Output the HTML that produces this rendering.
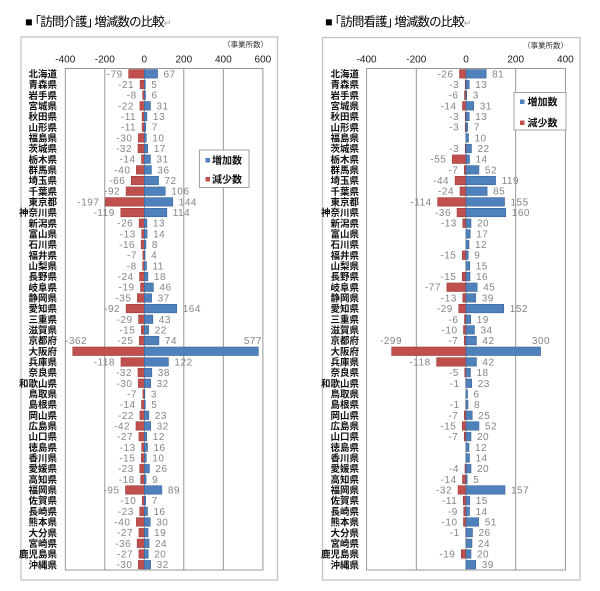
<!DOCTYPE html>
<html><head><meta charset="utf-8">
<style>
html,body{margin:0;padding:0;background:#fff;}
svg{display:block;}
.t{font-family:"Liberation Sans","Noto Sans CJK JP",sans-serif;font-size:12.5px;fill:#000;letter-spacing:-0.9px;}
.pf{font-family:"Liberation Sans","Noto Sans CJK JP",sans-serif;font-size:9.5px;font-weight:bold;fill:#111;text-anchor:end;}
.v{font-family:"Liberation Sans",sans-serif;font-size:10px;fill:#858585;letter-spacing:0.5px;}
.n{text-anchor:end;}
.tk{font-family:"Liberation Sans",sans-serif;font-size:10px;fill:#222;text-anchor:middle;}
.u{font-family:"Liberation Sans","Noto Sans CJK JP",sans-serif;font-size:7.5px;fill:#333;text-anchor:end;}
.lg{font-family:"Liberation Sans","Noto Sans CJK JP",sans-serif;font-size:10px;font-weight:bold;fill:#111;}
.r{fill:#c0504d;stroke:#9c3b38;stroke-width:0.6;}
.b{fill:#4f81bd;stroke:#3b6496;stroke-width:0.6;}
.g{stroke:#8c8c8c;stroke-width:0.9;}
</style></head>
<body>
<svg width="600" height="591" viewBox="0 0 600 591" xmlns="http://www.w3.org/2000/svg">
<rect x="0" y="0" width="600" height="591" fill="#fff"/>

<!-- Titles -->
<text class="t" x="25" y="26">■<tspan dx="-3">「訪問介護」</tspan><tspan dx="-4">増減数の比較</tspan><tspan fill="#999" font-size="9">↵</tspan></text>
<text class="t" x="325" y="26">■<tspan dx="-3">「訪問看護」</tspan><tspan dx="-4">増減数の比較</tspan><tspan fill="#999" font-size="9">↵</tspan></text>

<!-- ============ LEFT CHART ============ -->
<rect x="21" y="37" width="256.5" height="543" fill="#fff" stroke="#c4c4c4" stroke-width="1.3"/>
<text class="u" x="268" y="47">（事業所数）</text>
<text class="tk" x="65.3" y="62.5">-400</text>
<text class="tk" x="104.8" y="62.5">-200</text>
<text class="tk" x="144.3" y="62.5">0</text>
<text class="tk" x="183.8" y="62.5">200</text>
<text class="tk" x="223.3" y="62.5">400</text>
<text class="tk" x="262.9" y="62.5">600</text>
<rect x="65.3" y="68.5" width="197.6" height="501.5" fill="#fff" class="g"/>
<line class="g" x1="104.8" y1="68.5" x2="104.8" y2="570"/>
<line class="g" x1="144.3" y1="68.5" x2="144.3" y2="570"/>
<line class="g" x1="183.8" y1="68.5" x2="183.8" y2="570"/>
<line class="g" x1="223.3" y1="68.5" x2="223.3" y2="570"/>

<g transform="translate(144.3,73.84)"><text class="pf" x="-87.3" y="3.6">北海道</text><rect class="r" x="-15.61" y="-4.25" width="15.61" height="8.5"/><rect class="b" x="0" y="-4.25" width="13.24" height="8.5"/><text class="v n" x="-21.6" y="3.5">-79</text><text class="v" x="19.2" y="3.5">67</text></g>
<g transform="translate(144.3,84.51)"><text class="pf" x="-87.3" y="3.6">青森県</text><rect class="r" x="-4.15" y="-4.25" width="4.15" height="8.5"/><rect class="b" x="0" y="-4.25" width="0.99" height="8.5"/><text class="v n" x="-10.2" y="3.5">-21</text><text class="v" x="7" y="3.5">5</text></g>
<g transform="translate(144.3,95.18)"><text class="pf" x="-87.3" y="3.6">岩手県</text><rect class="r" x="-1.58" y="-4.25" width="1.58" height="8.5"/><rect class="b" x="0" y="-4.25" width="1.19" height="8.5"/><text class="v n" x="-7.6" y="3.5">-8</text><text class="v" x="7.2" y="3.5">6</text></g>
<g transform="translate(144.3,105.85)"><text class="pf" x="-87.3" y="3.6">宮城県</text><rect class="r" x="-4.35" y="-4.25" width="4.35" height="8.5"/><rect class="b" x="0" y="-4.25" width="6.13" height="8.5"/><text class="v n" x="-10.4" y="3.5">-22</text><text class="v" x="12.1" y="3.5">31</text></g>
<g transform="translate(144.3,116.52)"><text class="pf" x="-87.3" y="3.6">秋田県</text><rect class="r" x="-2.17" y="-4.25" width="2.17" height="8.5"/><rect class="b" x="0" y="-4.25" width="2.57" height="8.5"/><text class="v n" x="-8.2" y="3.5">-11</text><text class="v" x="8.6" y="3.5">13</text></g>
<g transform="translate(144.3,127.19)"><text class="pf" x="-87.3" y="3.6">山形県</text><rect class="r" x="-2.17" y="-4.25" width="2.17" height="8.5"/><rect class="b" x="0" y="-4.25" width="1.38" height="8.5"/><text class="v n" x="-8.2" y="3.5">-11</text><text class="v" x="7.4" y="3.5">7</text></g>
<g transform="translate(144.3,137.86)"><text class="pf" x="-87.3" y="3.6">福島県</text><rect class="r" x="-5.93" y="-4.25" width="5.93" height="8.5"/><rect class="b" x="0" y="-4.25" width="1.98" height="8.5"/><text class="v n" x="-11.9" y="3.5">-30</text><text class="v" x="8" y="3.5">10</text></g>
<g transform="translate(144.3,148.53)"><text class="pf" x="-87.3" y="3.6">茨城県</text><rect class="r" x="-6.32" y="-4.25" width="6.32" height="8.5"/><rect class="b" x="0" y="-4.25" width="3.36" height="8.5"/><text class="v n" x="-12.3" y="3.5">-32</text><text class="v" x="9.4" y="3.5">17</text></g>
<g transform="translate(144.3,159.2)"><text class="pf" x="-87.3" y="3.6">栃木県</text><rect class="r" x="-2.77" y="-4.25" width="2.77" height="8.5"/><rect class="b" x="0" y="-4.25" width="6.13" height="8.5"/><text class="v n" x="-8.8" y="3.5">-14</text><text class="v" x="12.1" y="3.5">31</text></g>
<g transform="translate(144.3,169.87)"><text class="pf" x="-87.3" y="3.6">群馬県</text><rect class="r" x="-7.9" y="-4.25" width="7.9" height="8.5"/><rect class="b" x="0" y="-4.25" width="7.11" height="8.5"/><text class="v n" x="-13.9" y="3.5">-40</text><text class="v" x="13.1" y="3.5">36</text></g>
<g transform="translate(144.3,180.54)"><text class="pf" x="-87.3" y="3.6">埼玉県</text><rect class="r" x="-13.04" y="-4.25" width="13.04" height="8.5"/><rect class="b" x="0" y="-4.25" width="14.23" height="8.5"/><text class="v n" x="-19" y="3.5">-66</text><text class="v" x="20.2" y="3.5">72</text></g>
<g transform="translate(144.3,191.21)"><text class="pf" x="-87.3" y="3.6">千葉県</text><rect class="r" x="-18.18" y="-4.25" width="18.18" height="8.5"/><rect class="b" x="0" y="-4.25" width="20.95" height="8.5"/><text class="v n" x="-24.2" y="3.5">-92</text><text class="v" x="27" y="3.5">106</text></g>
<g transform="translate(144.3,201.88)"><text class="pf" x="-87.3" y="3.6">東京都</text><rect class="r" x="-38.93" y="-4.25" width="38.93" height="8.5"/><rect class="b" x="0" y="-4.25" width="28.45" height="8.5"/><text class="v n" x="-44.9" y="3.5">-197</text><text class="v" x="34.5" y="3.5">144</text></g>
<g transform="translate(144.3,212.55)"><text class="pf" x="-87.3" y="3.6">神奈川県</text><rect class="r" x="-23.51" y="-4.25" width="23.51" height="8.5"/><rect class="b" x="0" y="-4.25" width="22.53" height="8.5"/><text class="v n" x="-29.5" y="3.5">-119</text><text class="v" x="28.5" y="3.5">114</text></g>
<g transform="translate(144.3,223.22)"><text class="pf" x="-87.3" y="3.6">新潟県</text><rect class="r" x="-5.14" y="-4.25" width="5.14" height="8.5"/><rect class="b" x="0" y="-4.25" width="2.57" height="8.5"/><text class="v n" x="-11.1" y="3.5">-26</text><text class="v" x="8.6" y="3.5">13</text></g>
<g transform="translate(144.3,233.89)"><text class="pf" x="-87.3" y="3.6">富山県</text><rect class="r" x="-2.57" y="-4.25" width="2.57" height="8.5"/><rect class="b" x="0" y="-4.25" width="2.77" height="8.5"/><text class="v n" x="-8.6" y="3.5">-13</text><text class="v" x="8.8" y="3.5">14</text></g>
<g transform="translate(144.3,244.56)"><text class="pf" x="-87.3" y="3.6">石川県</text><rect class="r" x="-3.16" y="-4.25" width="3.16" height="8.5"/><rect class="b" x="0" y="-4.25" width="1.58" height="8.5"/><text class="v n" x="-9.2" y="3.5">-16</text><text class="v" x="7.6" y="3.5">8</text></g>
<g transform="translate(144.3,255.23)"><text class="pf" x="-87.3" y="3.6">福井県</text><rect class="r" x="-1.38" y="-4.25" width="1.38" height="8.5"/><rect class="b" x="0" y="-4.25" width="0.79" height="8.5"/><text class="v n" x="-7.4" y="3.5">-7</text><text class="v" x="6.8" y="3.5">4</text></g>
<g transform="translate(144.3,265.9)"><text class="pf" x="-87.3" y="3.6">山梨県</text><rect class="r" x="-1.58" y="-4.25" width="1.58" height="8.5"/><rect class="b" x="0" y="-4.25" width="2.17" height="8.5"/><text class="v n" x="-7.6" y="3.5">-8</text><text class="v" x="8.2" y="3.5">11</text></g>
<g transform="translate(144.3,276.57)"><text class="pf" x="-87.3" y="3.6">長野県</text><rect class="r" x="-4.74" y="-4.25" width="4.74" height="8.5"/><rect class="b" x="0" y="-4.25" width="3.56" height="8.5"/><text class="v n" x="-10.7" y="3.5">-24</text><text class="v" x="9.6" y="3.5">18</text></g>
<g transform="translate(144.3,287.24)"><text class="pf" x="-87.3" y="3.6">岐阜県</text><rect class="r" x="-3.75" y="-4.25" width="3.75" height="8.5"/><rect class="b" x="0" y="-4.25" width="9.09" height="8.5"/><text class="v n" x="-9.8" y="3.5">-19</text><text class="v" x="15.1" y="3.5">46</text></g>
<g transform="translate(144.3,297.91)"><text class="pf" x="-87.3" y="3.6">静岡県</text><rect class="r" x="-6.92" y="-4.25" width="6.92" height="8.5"/><rect class="b" x="0" y="-4.25" width="7.31" height="8.5"/><text class="v n" x="-12.9" y="3.5">-35</text><text class="v" x="13.3" y="3.5">37</text></g>
<g transform="translate(144.3,308.58)"><text class="pf" x="-87.3" y="3.6">愛知県</text><rect class="r" x="-18.18" y="-4.25" width="18.18" height="8.5"/><rect class="b" x="0" y="-4.25" width="32.41" height="8.5"/><text class="v n" x="-24.2" y="3.5">-92</text><text class="v" x="38.4" y="3.5">164</text></g>
<g transform="translate(144.3,319.25)"><text class="pf" x="-87.3" y="3.6">三重県</text><rect class="r" x="-5.73" y="-4.25" width="5.73" height="8.5"/><rect class="b" x="0" y="-4.25" width="8.5" height="8.5"/><text class="v n" x="-11.7" y="3.5">-29</text><text class="v" x="14.5" y="3.5">43</text></g>
<g transform="translate(144.3,329.92)"><text class="pf" x="-87.3" y="3.6">滋賀県</text><rect class="r" x="-2.96" y="-4.25" width="2.96" height="8.5"/><rect class="b" x="0" y="-4.25" width="4.35" height="8.5"/><text class="v n" x="-9" y="3.5">-15</text><text class="v" x="10.4" y="3.5">22</text></g>
<g transform="translate(144.3,340.59)"><text class="pf" x="-87.3" y="3.6">京都府</text><rect class="r" x="-4.94" y="-4.25" width="4.94" height="8.5"/><rect class="b" x="0" y="-4.25" width="14.62" height="8.5"/><text class="v n" x="-10.9" y="3.5">-25</text><text class="v" x="20.6" y="3.5">74</text></g>
<g transform="translate(144.3,351.26)"><text class="pf" x="-87.3" y="3.6">大阪府</text><rect class="r" x="-71.53" y="-4.25" width="71.53" height="8.5"/><rect class="b" x="0" y="-4.25" width="114.02" height="8.5"/></g>
<text class="v" x="65" y="344">-362</text>
<text class="v n" x="262" y="344">577</text>
<g transform="translate(144.3,361.93)"><text class="pf" x="-87.3" y="3.6">兵庫県</text><rect class="r" x="-23.32" y="-4.25" width="23.32" height="8.5"/><rect class="b" x="0" y="-4.25" width="24.11" height="8.5"/><text class="v n" x="-29.3" y="3.5">-118</text><text class="v" x="30.1" y="3.5">122</text></g>
<g transform="translate(144.3,372.6)"><text class="pf" x="-87.3" y="3.6">奈良県</text><rect class="r" x="-6.32" y="-4.25" width="6.32" height="8.5"/><rect class="b" x="0" y="-4.25" width="7.51" height="8.5"/><text class="v n" x="-12.3" y="3.5">-32</text><text class="v" x="13.5" y="3.5">38</text></g>
<g transform="translate(144.3,383.27)"><text class="pf" x="-87.3" y="3.6">和歌山県</text><rect class="r" x="-5.93" y="-4.25" width="5.93" height="8.5"/><rect class="b" x="0" y="-4.25" width="6.32" height="8.5"/><text class="v n" x="-11.9" y="3.5">-30</text><text class="v" x="12.3" y="3.5">32</text></g>
<g transform="translate(144.3,393.94)"><text class="pf" x="-87.3" y="3.6">鳥取県</text><rect class="r" x="-1.38" y="-4.25" width="1.38" height="8.5"/><rect class="b" x="0" y="-4.25" width="0.59" height="8.5"/><text class="v n" x="-7.4" y="3.5">-7</text><text class="v" x="6.6" y="3.5">3</text></g>
<g transform="translate(144.3,404.61)"><text class="pf" x="-87.3" y="3.6">島根県</text><rect class="r" x="-2.77" y="-4.25" width="2.77" height="8.5"/><rect class="b" x="0" y="-4.25" width="0.99" height="8.5"/><text class="v n" x="-8.8" y="3.5">-14</text><text class="v" x="7" y="3.5">5</text></g>
<g transform="translate(144.3,415.28)"><text class="pf" x="-87.3" y="3.6">岡山県</text><rect class="r" x="-4.35" y="-4.25" width="4.35" height="8.5"/><rect class="b" x="0" y="-4.25" width="4.54" height="8.5"/><text class="v n" x="-10.4" y="3.5">-22</text><text class="v" x="10.5" y="3.5">23</text></g>
<g transform="translate(144.3,425.95)"><text class="pf" x="-87.3" y="3.6">広島県</text><rect class="r" x="-8.3" y="-4.25" width="8.3" height="8.5"/><rect class="b" x="0" y="-4.25" width="6.32" height="8.5"/><text class="v n" x="-14.3" y="3.5">-42</text><text class="v" x="12.3" y="3.5">32</text></g>
<g transform="translate(144.3,436.62)"><text class="pf" x="-87.3" y="3.6">山口県</text><rect class="r" x="-5.34" y="-4.25" width="5.34" height="8.5"/><rect class="b" x="0" y="-4.25" width="2.37" height="8.5"/><text class="v n" x="-11.3" y="3.5">-27</text><text class="v" x="8.4" y="3.5">12</text></g>
<g transform="translate(144.3,447.29)"><text class="pf" x="-87.3" y="3.6">徳島県</text><rect class="r" x="-2.57" y="-4.25" width="2.57" height="8.5"/><rect class="b" x="0" y="-4.25" width="3.16" height="8.5"/><text class="v n" x="-8.6" y="3.5">-13</text><text class="v" x="9.2" y="3.5">16</text></g>
<g transform="translate(144.3,457.96)"><text class="pf" x="-87.3" y="3.6">香川県</text><rect class="r" x="-2.96" y="-4.25" width="2.96" height="8.5"/><rect class="b" x="0" y="-4.25" width="1.98" height="8.5"/><text class="v n" x="-9" y="3.5">-15</text><text class="v" x="8" y="3.5">10</text></g>
<g transform="translate(144.3,468.63)"><text class="pf" x="-87.3" y="3.6">愛媛県</text><rect class="r" x="-4.54" y="-4.25" width="4.54" height="8.5"/><rect class="b" x="0" y="-4.25" width="5.14" height="8.5"/><text class="v n" x="-10.5" y="3.5">-23</text><text class="v" x="11.1" y="3.5">26</text></g>
<g transform="translate(144.3,479.3)"><text class="pf" x="-87.3" y="3.6">高知県</text><rect class="r" x="-3.56" y="-4.25" width="3.56" height="8.5"/><rect class="b" x="0" y="-4.25" width="1.78" height="8.5"/><text class="v n" x="-9.6" y="3.5">-18</text><text class="v" x="7.8" y="3.5">9</text></g>
<g transform="translate(144.3,489.97)"><text class="pf" x="-87.3" y="3.6">福岡県</text><rect class="r" x="-18.77" y="-4.25" width="18.77" height="8.5"/><rect class="b" x="0" y="-4.25" width="17.59" height="8.5"/><text class="v n" x="-24.8" y="3.5">-95</text><text class="v" x="23.6" y="3.5">89</text></g>
<g transform="translate(144.3,500.64)"><text class="pf" x="-87.3" y="3.6">佐賀県</text><rect class="r" x="-1.98" y="-4.25" width="1.98" height="8.5"/><rect class="b" x="0" y="-4.25" width="1.38" height="8.5"/><text class="v n" x="-8" y="3.5">-10</text><text class="v" x="7.4" y="3.5">7</text></g>
<g transform="translate(144.3,511.31)"><text class="pf" x="-87.3" y="3.6">長崎県</text><rect class="r" x="-4.54" y="-4.25" width="4.54" height="8.5"/><rect class="b" x="0" y="-4.25" width="3.16" height="8.5"/><text class="v n" x="-10.5" y="3.5">-23</text><text class="v" x="9.2" y="3.5">16</text></g>
<g transform="translate(144.3,521.98)"><text class="pf" x="-87.3" y="3.6">熊本県</text><rect class="r" x="-7.9" y="-4.25" width="7.9" height="8.5"/><rect class="b" x="0" y="-4.25" width="5.93" height="8.5"/><text class="v n" x="-13.9" y="3.5">-40</text><text class="v" x="11.9" y="3.5">30</text></g>
<g transform="translate(144.3,532.65)"><text class="pf" x="-87.3" y="3.6">大分県</text><rect class="r" x="-5.34" y="-4.25" width="5.34" height="8.5"/><rect class="b" x="0" y="-4.25" width="3.75" height="8.5"/><text class="v n" x="-11.3" y="3.5">-27</text><text class="v" x="9.8" y="3.5">19</text></g>
<g transform="translate(144.3,543.32)"><text class="pf" x="-87.3" y="3.6">宮崎県</text><rect class="r" x="-7.11" y="-4.25" width="7.11" height="8.5"/><rect class="b" x="0" y="-4.25" width="4.74" height="8.5"/><text class="v n" x="-13.1" y="3.5">-36</text><text class="v" x="10.7" y="3.5">24</text></g>
<g transform="translate(144.3,553.99)"><text class="pf" x="-87.3" y="3.6">鹿児島県</text><rect class="r" x="-5.34" y="-4.25" width="5.34" height="8.5"/><rect class="b" x="0" y="-4.25" width="3.95" height="8.5"/><text class="v n" x="-11.3" y="3.5">-27</text><text class="v" x="9.9" y="3.5">20</text></g>
<g transform="translate(144.3,564.66)"><text class="pf" x="-87.3" y="3.6">沖縄県</text><rect class="r" x="-5.93" y="-4.25" width="5.93" height="8.5"/><rect class="b" x="0" y="-4.25" width="6.32" height="8.5"/><text class="v n" x="-11.9" y="3.5">-30</text><text class="v" x="12.3" y="3.5">32</text></g>

<!-- left legend -->
<rect x="199.5" y="150" width="49.5" height="37.5" fill="#fff" stroke="#9a9a9a" stroke-width="0.9"/>
<rect x="205.5" y="158" width="4.5" height="4.5" fill="#4f81bd"/>
<text class="lg" x="212" y="164">増加数</text>
<rect x="205.5" y="177" width="4.5" height="4.5" fill="#c0504d"/>
<text class="lg" x="212" y="183">減少数</text>

<!-- ============ RIGHT CHART ============ -->
<rect x="322.5" y="37.5" width="257.5" height="542.5" fill="#fff" stroke="#c4c4c4" stroke-width="1.3"/>
<text class="u" x="568" y="48">（事業所数）</text>
<text class="tk" x="366.6" y="62.5">-400</text>
<text class="tk" x="416.3" y="62.5">-200</text>
<text class="tk" x="466" y="62.5">0</text>
<text class="tk" x="515.7" y="62.5">200</text>
<text class="tk" x="565.4" y="62.5">400</text>
<rect x="366.6" y="68.5" width="198.8" height="501.5" fill="#fff" class="g"/>
<line class="g" x1="416.3" y1="68.5" x2="416.3" y2="570"/>
<line class="g" x1="466" y1="68.5" x2="466" y2="570"/>
<line class="g" x1="515.7" y1="68.5" x2="515.7" y2="570"/>

<g transform="translate(466,73.84)"><text class="pf" x="-107" y="3.6">北海道</text><rect class="r" x="-6.46" y="-4.25" width="6.46" height="8.5"/><rect class="b" x="0" y="-4.25" width="20.13" height="8.5"/><text class="v n" x="-12.5" y="3.5">-26</text><text class="v" x="26.1" y="3.5">81</text></g>
<g transform="translate(466,84.51)"><text class="pf" x="-107" y="3.6">青森県</text><rect class="r" x="-0.75" y="-4.25" width="0.75" height="8.5"/><rect class="b" x="0" y="-4.25" width="3.23" height="8.5"/><text class="v n" x="-6.8" y="3.5">-3</text><text class="v" x="9.2" y="3.5">13</text></g>
<g transform="translate(466,95.18)"><text class="pf" x="-107" y="3.6">岩手県</text><rect class="r" x="-1.49" y="-4.25" width="1.49" height="8.5"/><rect class="b" x="0" y="-4.25" width="0.75" height="8.5"/><text class="v n" x="-7.5" y="3.5">-6</text><text class="v" x="6.8" y="3.5">3</text></g>
<g transform="translate(466,105.85)"><text class="pf" x="-107" y="3.6">宮城県</text><rect class="r" x="-3.48" y="-4.25" width="3.48" height="8.5"/><rect class="b" x="0" y="-4.25" width="7.7" height="8.5"/><text class="v n" x="-9.5" y="3.5">-14</text><text class="v" x="13.7" y="3.5">31</text></g>
<g transform="translate(466,116.52)"><text class="pf" x="-107" y="3.6">秋田県</text><rect class="r" x="-0.75" y="-4.25" width="0.75" height="8.5"/><rect class="b" x="0" y="-4.25" width="3.23" height="8.5"/><text class="v n" x="-6.8" y="3.5">-3</text><text class="v" x="9.2" y="3.5">13</text></g>
<g transform="translate(466,127.19)"><text class="pf" x="-107" y="3.6">山形県</text><rect class="r" x="-0.75" y="-4.25" width="0.75" height="8.5"/><rect class="b" x="0" y="-4.25" width="1.74" height="8.5"/><text class="v n" x="-6.8" y="3.5">-3</text><text class="v" x="7.7" y="3.5">7</text></g>
<g transform="translate(466,137.86)"><text class="pf" x="-107" y="3.6">福島県</text><rect class="b" x="0" y="-4.25" width="2.49" height="8.5"/><text class="v" x="8.5" y="3.5">10</text></g>
<g transform="translate(466,148.53)"><text class="pf" x="-107" y="3.6">茨城県</text><rect class="r" x="-0.75" y="-4.25" width="0.75" height="8.5"/><rect class="b" x="0" y="-4.25" width="5.47" height="8.5"/><text class="v n" x="-6.8" y="3.5">-3</text><text class="v" x="11.5" y="3.5">22</text></g>
<g transform="translate(466,159.2)"><text class="pf" x="-107" y="3.6">栃木県</text><rect class="r" x="-13.67" y="-4.25" width="13.67" height="8.5"/><rect class="b" x="0" y="-4.25" width="3.48" height="8.5"/><text class="v n" x="-19.7" y="3.5">-55</text><text class="v" x="9.5" y="3.5">14</text></g>
<g transform="translate(466,169.87)"><text class="pf" x="-107" y="3.6">群馬県</text><rect class="r" x="-1.74" y="-4.25" width="1.74" height="8.5"/><rect class="b" x="0" y="-4.25" width="12.92" height="8.5"/><text class="v n" x="-7.7" y="3.5">-7</text><text class="v" x="18.9" y="3.5">52</text></g>
<g transform="translate(466,180.54)"><text class="pf" x="-107" y="3.6">埼玉県</text><rect class="r" x="-10.93" y="-4.25" width="10.93" height="8.5"/><rect class="b" x="0" y="-4.25" width="29.57" height="8.5"/><text class="v n" x="-16.9" y="3.5">-44</text><text class="v" x="35.6" y="3.5">119</text></g>
<g transform="translate(466,191.21)"><text class="pf" x="-107" y="3.6">千葉県</text><rect class="r" x="-5.96" y="-4.25" width="5.96" height="8.5"/><rect class="b" x="0" y="-4.25" width="21.12" height="8.5"/><text class="v n" x="-12" y="3.5">-24</text><text class="v" x="27.1" y="3.5">85</text></g>
<g transform="translate(466,201.88)"><text class="pf" x="-107" y="3.6">東京都</text><rect class="r" x="-28.33" y="-4.25" width="28.33" height="8.5"/><rect class="b" x="0" y="-4.25" width="38.52" height="8.5"/><text class="v n" x="-34.3" y="3.5">-114</text><text class="v" x="44.5" y="3.5">155</text></g>
<g transform="translate(466,212.55)"><text class="pf" x="-107" y="3.6">神奈川県</text><rect class="r" x="-8.95" y="-4.25" width="8.95" height="8.5"/><rect class="b" x="0" y="-4.25" width="39.76" height="8.5"/><text class="v n" x="-15" y="3.5">-36</text><text class="v" x="45.8" y="3.5">160</text></g>
<g transform="translate(466,223.22)"><text class="pf" x="-107" y="3.6">新潟県</text><rect class="r" x="-3.23" y="-4.25" width="3.23" height="8.5"/><rect class="b" x="0" y="-4.25" width="4.97" height="8.5"/><text class="v n" x="-9.2" y="3.5">-13</text><text class="v" x="11" y="3.5">20</text></g>
<g transform="translate(466,233.89)"><text class="pf" x="-107" y="3.6">富山県</text><rect class="b" x="0" y="-4.25" width="4.22" height="8.5"/><text class="v" x="10.2" y="3.5">17</text></g>
<g transform="translate(466,244.56)"><text class="pf" x="-107" y="3.6">石川県</text><rect class="b" x="0" y="-4.25" width="2.98" height="8.5"/><text class="v" x="9" y="3.5">12</text></g>
<g transform="translate(466,255.23)"><text class="pf" x="-107" y="3.6">福井県</text><rect class="r" x="-3.73" y="-4.25" width="3.73" height="8.5"/><rect class="b" x="0" y="-4.25" width="2.24" height="8.5"/><text class="v n" x="-9.7" y="3.5">-15</text><text class="v" x="8.2" y="3.5">9</text></g>
<g transform="translate(466,265.9)"><text class="pf" x="-107" y="3.6">山梨県</text><rect class="b" x="0" y="-4.25" width="3.73" height="8.5"/><text class="v" x="9.7" y="3.5">15</text></g>
<g transform="translate(466,276.57)"><text class="pf" x="-107" y="3.6">長野県</text><rect class="r" x="-3.73" y="-4.25" width="3.73" height="8.5"/><rect class="b" x="0" y="-4.25" width="3.98" height="8.5"/><text class="v n" x="-9.7" y="3.5">-15</text><text class="v" x="10" y="3.5">16</text></g>
<g transform="translate(466,287.24)"><text class="pf" x="-107" y="3.6">岐阜県</text><rect class="r" x="-19.13" y="-4.25" width="19.13" height="8.5"/><rect class="b" x="0" y="-4.25" width="11.18" height="8.5"/><text class="v n" x="-25.1" y="3.5">-77</text><text class="v" x="17.2" y="3.5">45</text></g>
<g transform="translate(466,297.91)"><text class="pf" x="-107" y="3.6">静岡県</text><rect class="r" x="-3.23" y="-4.25" width="3.23" height="8.5"/><rect class="b" x="0" y="-4.25" width="9.69" height="8.5"/><text class="v n" x="-9.2" y="3.5">-13</text><text class="v" x="15.7" y="3.5">39</text></g>
<g transform="translate(466,308.58)"><text class="pf" x="-107" y="3.6">愛知県</text><rect class="r" x="-7.21" y="-4.25" width="7.21" height="8.5"/><rect class="b" x="0" y="-4.25" width="37.77" height="8.5"/><text class="v n" x="-13.2" y="3.5">-29</text><text class="v" x="43.8" y="3.5">152</text></g>
<g transform="translate(466,319.25)"><text class="pf" x="-107" y="3.6">三重県</text><rect class="r" x="-1.49" y="-4.25" width="1.49" height="8.5"/><rect class="b" x="0" y="-4.25" width="4.72" height="8.5"/><text class="v n" x="-7.5" y="3.5">-6</text><text class="v" x="10.7" y="3.5">19</text></g>
<g transform="translate(466,329.92)"><text class="pf" x="-107" y="3.6">滋賀県</text><rect class="r" x="-2.49" y="-4.25" width="2.49" height="8.5"/><rect class="b" x="0" y="-4.25" width="8.45" height="8.5"/><text class="v n" x="-8.5" y="3.5">-10</text><text class="v" x="14.5" y="3.5">34</text></g>
<g transform="translate(466,340.59)"><text class="pf" x="-107" y="3.6">京都府</text><rect class="r" x="-1.74" y="-4.25" width="1.74" height="8.5"/><rect class="b" x="0" y="-4.25" width="10.44" height="8.5"/><text class="v n" x="-7.7" y="3.5">-7</text><text class="v" x="16.4" y="3.5">42</text></g>
<g transform="translate(466,351.26)"><text class="pf" x="-107" y="3.6">大阪府</text><rect class="r" x="-74.3" y="-4.25" width="74.3" height="8.5"/><rect class="b" x="0" y="-4.25" width="74.55" height="8.5"/></g>
<text class="v" x="391" y="344" text-anchor="middle">-299</text>
<text class="v" x="541" y="344" text-anchor="middle">300</text>
<g transform="translate(466,361.93)"><text class="pf" x="-107" y="3.6">兵庫県</text><rect class="r" x="-29.32" y="-4.25" width="29.32" height="8.5"/><rect class="b" x="0" y="-4.25" width="10.44" height="8.5"/><text class="v n" x="-35.3" y="3.5">-118</text><text class="v" x="16.4" y="3.5">42</text></g>
<g transform="translate(466,372.6)"><text class="pf" x="-107" y="3.6">奈良県</text><rect class="r" x="-1.24" y="-4.25" width="1.24" height="8.5"/><rect class="b" x="0" y="-4.25" width="4.47" height="8.5"/><text class="v n" x="-7.2" y="3.5">-5</text><text class="v" x="10.5" y="3.5">18</text></g>
<g transform="translate(466,383.27)"><text class="pf" x="-107" y="3.6">和歌山県</text><rect class="r" x="-0.25" y="-4.25" width="0.25" height="8.5"/><rect class="b" x="0" y="-4.25" width="5.72" height="8.5"/><text class="v n" x="-6.3" y="3.5">-1</text><text class="v" x="11.7" y="3.5">23</text></g>
<g transform="translate(466,393.94)"><text class="pf" x="-107" y="3.6">鳥取県</text><rect class="b" x="0" y="-4.25" width="1.49" height="8.5"/><text class="v" x="7.5" y="3.5">6</text></g>
<g transform="translate(466,404.61)"><text class="pf" x="-107" y="3.6">島根県</text><rect class="r" x="-0.25" y="-4.25" width="0.25" height="8.5"/><rect class="b" x="0" y="-4.25" width="1.99" height="8.5"/><text class="v n" x="-6.3" y="3.5">-1</text><text class="v" x="8" y="3.5">8</text></g>
<g transform="translate(466,415.28)"><text class="pf" x="-107" y="3.6">岡山県</text><rect class="r" x="-1.74" y="-4.25" width="1.74" height="8.5"/><rect class="b" x="0" y="-4.25" width="6.21" height="8.5"/><text class="v n" x="-7.7" y="3.5">-7</text><text class="v" x="12.2" y="3.5">25</text></g>
<g transform="translate(466,425.95)"><text class="pf" x="-107" y="3.6">広島県</text><rect class="r" x="-3.73" y="-4.25" width="3.73" height="8.5"/><rect class="b" x="0" y="-4.25" width="12.92" height="8.5"/><text class="v n" x="-9.7" y="3.5">-15</text><text class="v" x="18.9" y="3.5">52</text></g>
<g transform="translate(466,436.62)"><text class="pf" x="-107" y="3.6">山口県</text><rect class="r" x="-1.74" y="-4.25" width="1.74" height="8.5"/><rect class="b" x="0" y="-4.25" width="4.97" height="8.5"/><text class="v n" x="-7.7" y="3.5">-7</text><text class="v" x="11" y="3.5">20</text></g>
<g transform="translate(466,447.29)"><text class="pf" x="-107" y="3.6">徳島県</text><rect class="b" x="0" y="-4.25" width="2.98" height="8.5"/><text class="v" x="9" y="3.5">12</text></g>
<g transform="translate(466,457.96)"><text class="pf" x="-107" y="3.6">香川県</text><rect class="b" x="0" y="-4.25" width="3.48" height="8.5"/><text class="v" x="9.5" y="3.5">14</text></g>
<g transform="translate(466,468.63)"><text class="pf" x="-107" y="3.6">愛媛県</text><rect class="r" x="-0.99" y="-4.25" width="0.99" height="8.5"/><rect class="b" x="0" y="-4.25" width="4.97" height="8.5"/><text class="v n" x="-7" y="3.5">-4</text><text class="v" x="11" y="3.5">20</text></g>
<g transform="translate(466,479.3)"><text class="pf" x="-107" y="3.6">高知県</text><rect class="r" x="-3.48" y="-4.25" width="3.48" height="8.5"/><rect class="b" x="0" y="-4.25" width="1.24" height="8.5"/><text class="v n" x="-9.5" y="3.5">-14</text><text class="v" x="7.2" y="3.5">5</text></g>
<g transform="translate(466,489.97)"><text class="pf" x="-107" y="3.6">福岡県</text><rect class="r" x="-7.95" y="-4.25" width="7.95" height="8.5"/><rect class="b" x="0" y="-4.25" width="39.01" height="8.5"/><text class="v n" x="-14" y="3.5">-32</text><text class="v" x="45" y="3.5">157</text></g>
<g transform="translate(466,500.64)"><text class="pf" x="-107" y="3.6">佐賀県</text><rect class="r" x="-2.73" y="-4.25" width="2.73" height="8.5"/><rect class="b" x="0" y="-4.25" width="3.73" height="8.5"/><text class="v n" x="-8.7" y="3.5">-11</text><text class="v" x="9.7" y="3.5">15</text></g>
<g transform="translate(466,511.31)"><text class="pf" x="-107" y="3.6">長崎県</text><rect class="r" x="-2.24" y="-4.25" width="2.24" height="8.5"/><rect class="b" x="0" y="-4.25" width="3.48" height="8.5"/><text class="v n" x="-8.2" y="3.5">-9</text><text class="v" x="9.5" y="3.5">14</text></g>
<g transform="translate(466,521.98)"><text class="pf" x="-107" y="3.6">熊本県</text><rect class="r" x="-2.49" y="-4.25" width="2.49" height="8.5"/><rect class="b" x="0" y="-4.25" width="12.67" height="8.5"/><text class="v n" x="-8.5" y="3.5">-10</text><text class="v" x="18.7" y="3.5">51</text></g>
<g transform="translate(466,532.65)"><text class="pf" x="-107" y="3.6">大分県</text><rect class="r" x="-0.25" y="-4.25" width="0.25" height="8.5"/><rect class="b" x="0" y="-4.25" width="6.46" height="8.5"/><text class="v n" x="-6.3" y="3.5">-1</text><text class="v" x="12.5" y="3.5">26</text></g>
<g transform="translate(466,543.32)"><text class="pf" x="-107" y="3.6">宮崎県</text><rect class="b" x="0" y="-4.25" width="5.96" height="8.5"/><text class="v" x="12" y="3.5">24</text></g>
<g transform="translate(466,553.99)"><text class="pf" x="-107" y="3.6">鹿児島県</text><rect class="r" x="-4.72" y="-4.25" width="4.72" height="8.5"/><rect class="b" x="0" y="-4.25" width="4.97" height="8.5"/><text class="v n" x="-10.7" y="3.5">-19</text><text class="v" x="11" y="3.5">20</text></g>
<g transform="translate(466,564.66)"><text class="pf" x="-107" y="3.6">沖縄県</text><rect class="b" x="0" y="-4.25" width="9.69" height="8.5"/><text class="v" x="15.7" y="3.5">39</text></g>

<!-- right legend -->
<rect x="514" y="92.5" width="52" height="37.5" fill="#fff" stroke="#9a9a9a" stroke-width="0.9"/>
<rect x="520" y="99.5" width="4.5" height="4.5" fill="#4f81bd"/>
<text class="lg" x="527.5" y="105.5">増加数</text>
<rect x="520" y="120.5" width="4.5" height="4.5" fill="#c0504d"/>
<text class="lg" x="527.5" y="126.5">減少数</text>
</svg>
</body></html>
